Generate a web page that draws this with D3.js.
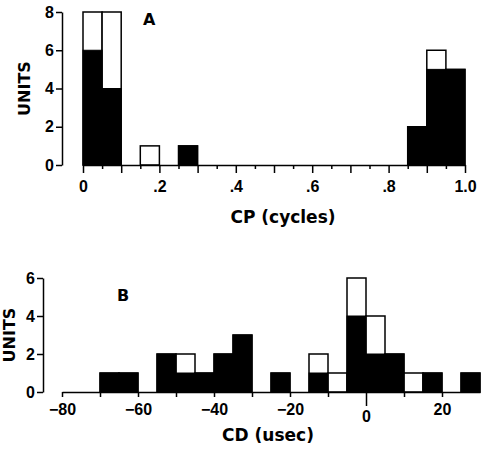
<!DOCTYPE html>
<html>
<head>
<meta charset="utf-8">
<script src="https://cdn.jsdelivr.net/npm/d3@7"></script>
<style>
  body { margin: 0; background: #fff; }
  svg { font-family: "DejaVu Sans", "Liberation Sans", Arial, sans-serif; font-weight: bold; }
</style>
</head>
<body>
<div id="chart"></div>
<script>
// Panel A: cycle phase histogram (bins of 0.05)
const cpBinStart = [0, .05, .1, .15, .2, .25, .3, .35, .4, .45, .5, .55, .6, .65, .7, .75, .8, .85, .9, .95];
const cpFilled = [6, 4, 0, 0, 0, 1, 0, 0, 0, 0, 0, 0, 0, 0, 0, 0, 0, 2, 5, 5];
const cpTotal  = [8, 8, 0, 1, 0, 1, 0, 0, 0, 0, 0, 0, 0, 0, 0, 0, 0, 2, 6, 5];
const cpTickLabels = [0, .2, .4, .6, .8, 1.0];
const cpYTicks = [0, 2, 4, 6, 8];

// Panel B: CD histogram (bins of 5 usec)
const cdBinStart = [-80, -75, -70, -65, -60, -55, -50, -45, -40, -35, -30, -25, -20, -15, -10, -5, 0, 5, 10, 15, 20, 25];
const cdFilled = [0, 0, 1, 1, 0, 2, 1, 1, 2, 3, 0, 1, 0, 1, 0, 4, 2, 2, 0, 1, 0, 1];
const cdTotal  = [0, 0, 1, 1, 0, 2, 2, 1, 2, 3, 0, 1, 0, 2, 1, 6, 4, 2, 1, 1, 0, 1];
const cdTickLabels = [-80, -60, -40, -20, 0, 20];
const cdYTicks = [0, 2, 4, 6];

const svg = d3.select('#chart').append('svg')
    .attr('width', 484)
    .attr('height', 450);

function histogram(g, o) {
    const x = d3.scaleLinear().domain(o.xDomain).range(o.xRange);
    const y = d3.scaleLinear().domain(o.yDomain).range(o.yRange);

    const bins = o.starts.map((s, i) => ({ x0: s, x1: s + o.width, filled: o.filled[i], total: o.total[i] }))
        .filter(d => d.total > 0);

    // outlined (open) part
    g.selectAll('.open').data(bins).enter().append('rect')
        .attr('x', d => x(d.x0))
        .attr('width', d => x(d.x1) - x(d.x0))
        .attr('y', d => y(d.total))
        .attr('height', d => y(0) - y(d.total))
        .attr('fill', '#fff')
        .attr('stroke', '#000')
        .attr('stroke-width', 1.5);

    // filled part
    g.selectAll('.fill').data(bins.filter(d => d.filled > 0)).enter().append('rect')
        .attr('x', d => x(d.x0))
        .attr('width', d => x(d.x1) - x(d.x0))
        .attr('y', d => y(d.filled))
        .attr('height', d => y(0) - y(d.filled))
        .attr('fill', '#000')
        .attr('stroke', '#000')
        .attr('stroke-width', 1);

    // x axis: minor ticks
    g.append('g')
        .attr('transform', `translate(0,${y(0)})`)
        .call(d3.axisBottom(x).tickValues(o.minorTicks).tickSize(o.minorSize).tickFormat('').tickSizeOuter(0))
        .call(a => a.select('.domain').remove())
        .selectAll('line').attr('stroke-width', 1.5);

    // x axis: major ticks with labels
    const xa = g.append('g')
        .attr('transform', `translate(0,${y(0)})`)
        .call(d3.axisBottom(x).tickValues(o.majorTicks).tickSize(o.majorSize).tickSizeOuter(0)
            .tickFormat(d => o.xLabels.some(v => Math.abs(v - d) < 1e-9) ? o.fmt(d) : ''));
    xa.select('.domain').attr('stroke-width', 1.5);
    xa.selectAll('line').attr('stroke-width', 1.5);
    xa.selectAll('text').attr('font-size', 16).attr('dy', '0.71em').attr('y', o.labelY);
    if (o.longZero) {
        xa.selectAll('.tick').filter(d => d === 0).select('line').attr('y2', o.majorSize + 9);
        xa.selectAll('.tick').filter(d => d === 0).select('text').attr('y', o.labelY + 7);
    }

    // y axis
    const ya = g.append('g')
        .attr('transform', `translate(${o.yAxisX},0)`)
        .call(d3.axisLeft(y).tickValues(o.yTicks).tickSize(6).tickSizeOuter(0).tickFormat(d3.format('d')));
    ya.select('.domain').attr('stroke-width', 1.5);
    ya.selectAll('line').attr('stroke-width', 1.5);
    ya.selectAll('text').attr('font-size', 16).attr('x', -8);

    // labels
    g.append('text')
        .attr('transform', `translate(${o.unitsX},${(y(0) + y(o.yDomain[1])) / 2}) rotate(-90)`)
        .attr('text-anchor', 'middle')
        .attr('font-size', 16)
        .text('UNITS');
    g.append('text')
        .attr('x', o.titleX).attr('y', o.titleY)
        .attr('text-anchor', 'middle')
        .attr('font-size', 17)
        .text(o.xTitle);
    g.append('text')
        .attr('x', o.letterX).attr('y', o.letterY)
        .attr('font-size', 16)
        .text(o.letter);
}

histogram(svg.append('g'), {
    starts: cpBinStart, filled: cpFilled, total: cpTotal, width: 0.05,
    xDomain: [0, 1], xRange: [83, 465],
    yDomain: [0, 8], yRange: [165, 12],
    majorTicks: d3.range(0, 1.0001, 0.1), minorTicks: d3.range(0.05, 1, 0.1),
    majorSize: 8, minorSize: 4, labelY: 16,
    xLabels: cpTickLabels,
    fmt: d => d === 0 ? '0' : d >= 1 ? '1.0' : d3.format('.1f')(d).replace(/^0/, ''),
    yTicks: cpYTicks, yAxisX: 62,
    unitsX: 30, xTitle: 'CP (cycles)', titleX: 283, titleY: 223,
    letter: 'A', letterX: 143, letterY: 25
});

histogram(svg.append('g'), {
    starts: cdBinStart, filled: cdFilled, total: cdTotal, width: 5,
    xDomain: [-80, 30], xRange: [62, 480],
    yDomain: [0, 6], yRange: [392, 278],
    majorTicks: d3.range(-80, 21, 10), minorTicks: [],
    majorSize: 5, minorSize: 3, labelY: 12, longZero: true,
    xLabels: cdTickLabels,
    fmt: d => d3.format('d')(d),
    yTicks: cdYTicks, yAxisX: 43,
    unitsX: 15, xTitle: 'CD (usec)', titleX: 268, titleY: 441,
    letter: 'B', letterX: 117, letterY: 301
});
</script>
</body>
</html>
